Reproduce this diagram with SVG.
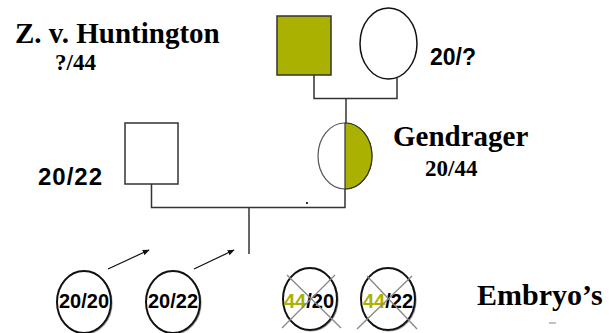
<svg xmlns="http://www.w3.org/2000/svg" width="609" height="333" viewBox="0 0 609 333">
<style>
.serif{font-family:"Liberation Serif","Times New Roman",serif;font-weight:bold;fill:#000}
.sans{font-family:"Liberation Sans",Arial,sans-serif;font-weight:bold;fill:#000}
.ln{stroke:#333;stroke-width:1.5;fill:none}
.emb{fill:#fff;stroke:#111;stroke-width:2}
.shadow{fill:none;stroke:#999;stroke-width:1.2}
.x{stroke:#888;stroke-width:1.3}
.olive{fill:#aab100}
.arr{stroke:#111;stroke-width:1.2;fill:none}
</style>
<defs>
<marker id="ah" viewBox="0 0 10 10" refX="9" refY="5" markerWidth="7" markerHeight="7" orient="auto" markerUnits="userSpaceOnUse">
<path d="M0,1 L10,5 L0,9 Z" fill="#111"/>
</marker>
</defs>
<rect width="609" height="333" fill="#fff"/>

<g id="connectors">
<polyline class="ln" points="314,75 314,98.5 397,98.5 397,77.4"/>
<line class="ln" x1="346" y1="98.5" x2="346" y2="123"/>
<polyline class="ln" points="151.5,184 151.5,207.5 345,207.5 345,189"/>
<line class="ln" x1="249" y1="207.5" x2="249" y2="254"/>
<line class="arr" x1="108" y1="269" x2="149" y2="250" marker-end="url(#ah)"/>
<line class="arr" x1="194" y1="269" x2="234" y2="250" marker-end="url(#ah)"/>
<rect x="306" y="202" width="2" height="2" fill="#333"/>
</g>

<g id="grandfather">
<rect x="277" y="16" width="54" height="59" fill="#aab100" stroke="#333" stroke-width="1.5"/>
</g>
<g id="grandmother">
<ellipse cx="388.5" cy="43.5" rx="28.5" ry="35.5" fill="#fff" stroke="#111" stroke-width="1.5"/>
<text class="sans" x="430" y="65" font-size="23">20/?</text>
</g>
<g id="label-huntington">
<text class="serif" x="15" y="43" font-size="29">Z. v. Huntington</text>
<text class="serif" x="55" y="70" font-size="23">?/44</text>
</g>
<g id="father">
<rect x="125" y="123" width="53" height="61" fill="#fff" stroke="#333" stroke-width="1.5"/>
<text class="sans" x="38" y="185" font-size="24" textLength="64">20/22</text>
</g>
<g id="gendrager">
<ellipse cx="345" cy="156" rx="27" ry="33" fill="#fff" stroke="#555" stroke-width="1.2"/>
<path d="M345,123 A27,33 0 0,1 345,189 Z" class="olive" stroke="#333" stroke-width="1.2"/>
<text class="serif" x="393" y="146" font-size="29">Gendrager</text>
<text class="serif" x="425" y="176" font-size="23">20/44</text>
</g>

<g id="embryo1">
<ellipse class="shadow" cx="85" cy="303" rx="27" ry="31"/>
<ellipse class="emb" cx="84" cy="302" rx="27" ry="31"/>
<text class="sans" x="84" y="308" font-size="20" text-anchor="middle">20/20</text>
</g>
<g id="embryo2">
<ellipse class="shadow" cx="174" cy="303" rx="27" ry="31"/>
<ellipse class="emb" cx="173" cy="302" rx="27" ry="31"/>
<text class="sans" x="173" y="308" font-size="20" text-anchor="middle">20/22</text>
</g>
<g id="embryo3">
<ellipse class="shadow" cx="311" cy="300" rx="27" ry="31"/>
<ellipse class="emb" cx="310" cy="299" rx="27" ry="31"/>
<text class="sans" x="309" y="308" font-size="20" text-anchor="middle"><tspan class="olive">44</tspan>/20</text>
<line class="x" x1="287" y1="275" x2="341" y2="328"/>
<line class="x" x1="335" y1="275" x2="282" y2="328"/>
</g>
<g id="embryo4">
<ellipse class="shadow" cx="389" cy="300" rx="27" ry="31"/>
<ellipse class="emb" cx="388" cy="299" rx="27" ry="31"/>
<text class="sans" x="388" y="308" font-size="20" text-anchor="middle"><tspan class="olive">44</tspan>/22</text>
<line class="x" x1="367" y1="276" x2="417" y2="329"/>
<line class="x" x1="412" y1="276" x2="357" y2="329"/>
</g>
<g id="label-embryos">
<text class="serif" x="477" y="305" font-size="30">Embryo’s</text>
<line x1="549" y1="323" x2="556" y2="323" stroke="#999" stroke-width="1.2"/>
</g>
</svg>
